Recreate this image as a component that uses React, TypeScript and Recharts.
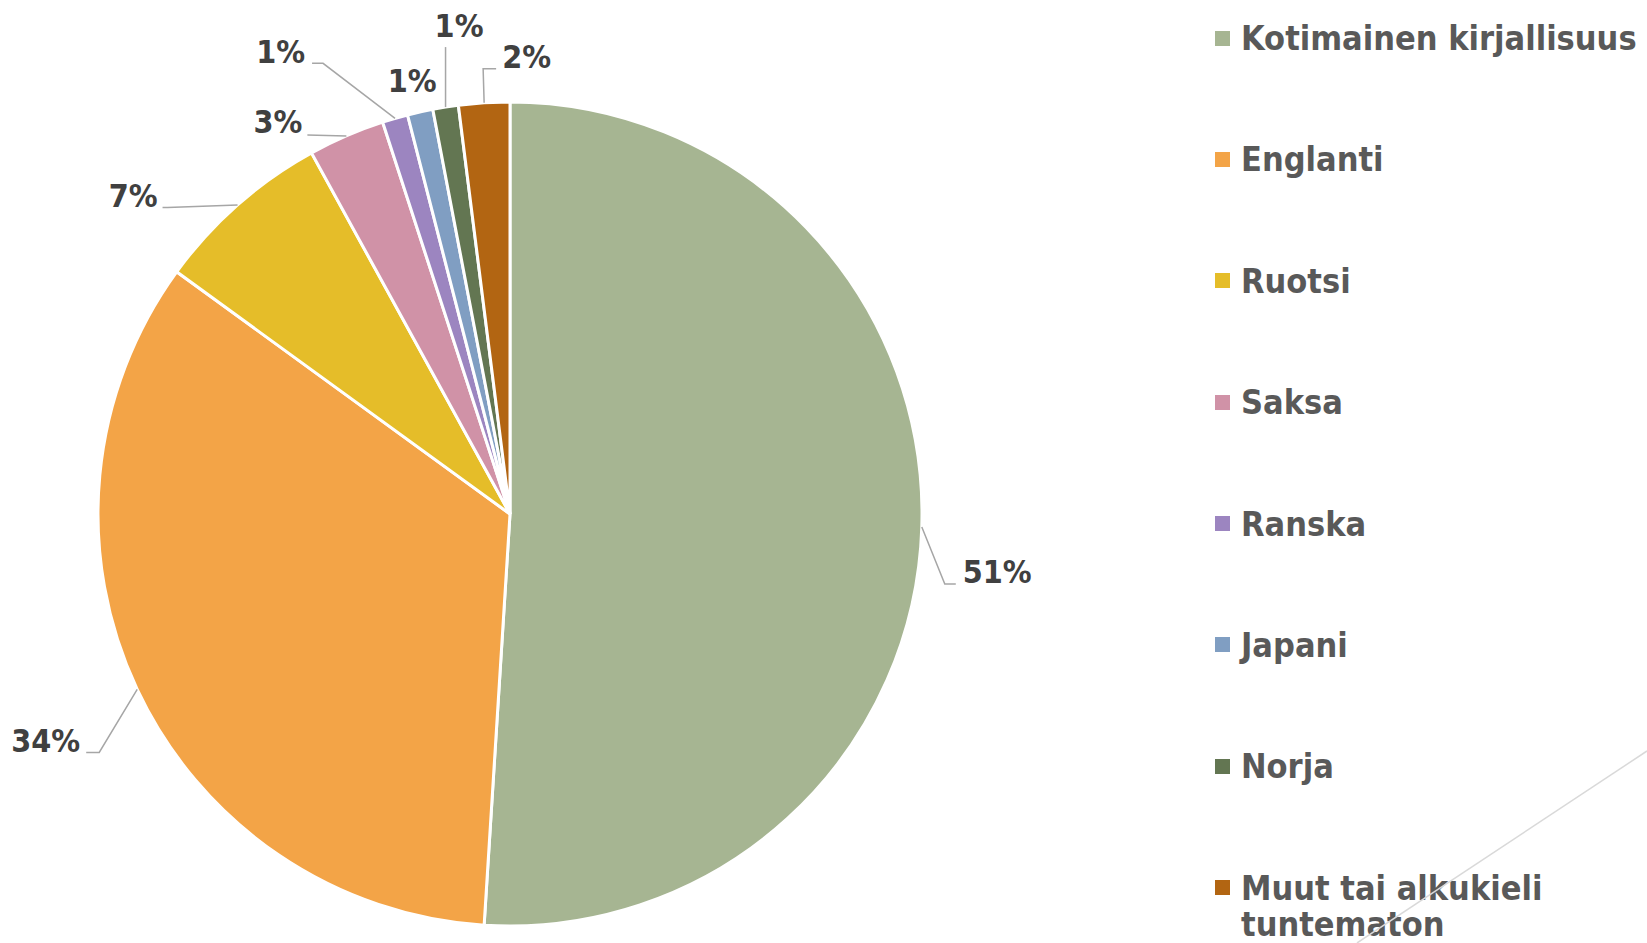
import React from 'react';
import { PieChart, Pie, Cell, Legend } from 'recharts';

const categories = [
  'Kotimainen kirjallisuus',
  'Englanti',
  'Ruotsi',
  'Saksa',
  'Ranska',
  'Japani',
  'Norja',
  'Muut tai alkukieli tuntematon'
];
const shares = [51, 34, 7, 3, 1, 1, 1, 2];
const colors = ['#A6B592', '#F3A447', '#E5BD29', '#D092A7', '#9C85C0', '#809EC2', '#637652', '#B26512'];

// where each data label sits relative to the slice's outer edge point (Excel-like leader lines)
const labelLayout = [
  { line: [[23, 57], [34, 57]], tx: 41, ty: 56, anchor: 'start' },
  { line: [[-38, 63], [-51, 63]], tx: -57, ty: 63, anchor: 'end' },
  { line: [[-70, 2.5], [-75, 2.5]], tx: -80, ty: 2, anchor: 'end' },
  { line: [[-39, -1]], tx: -44, ty: -3, anchor: 'end' },
  { line: [[-72, -55], [-83, -55]], tx: -90, ty: -55, anchor: 'end' },
  { line: [], tx: -8, ty: -20, anchor: 'middle' },
  { line: [[0, -60]], tx: 13.5, ty: -70, anchor: 'middle' },
  { line: [[-1, -34], [12, -34]], tx: 18, ty: -35, anchor: 'start' }
];

const FONT = '"DejaVu Sans Condensed", "DejaVu Sans", sans-serif';
const RADIAN = Math.PI / 180;

const data = categories.map((name, i) => ({ name, value: shares[i] }));

const renderLabel = (props: any) => {
  const { cx, cy, midAngle, outerRadius, index, value } = props;
  const ex = cx + outerRadius * Math.cos(-midAngle * RADIAN);
  const ey = cy + outerRadius * Math.sin(-midAngle * RADIAN);
  const lay = labelLayout[index];
  const pts = [[ex, ey], ...lay.line.map(([dx, dy]) => [ex + dx, ey + dy])];
  return (
    <g key={`lbl-${index}`}>
      {pts.length > 1 && (
        <polyline
          points={pts.map((p) => p.join(',')).join(' ')}
          fill="none"
          stroke="#A6A6A6"
          strokeWidth={1.5}
        />
      )}
      <text
        x={ex + lay.tx}
        y={ey + lay.ty}
        textAnchor={lay.anchor as any}
        fill="#404040"
        fontFamily={FONT}
        fontWeight="bold"
        fontSize={32}
      >
        {`${value}%`}
      </text>
    </g>
  );
};

const renderLegend = () => (
  <div style={{ fontFamily: FONT, fontWeight: 'bold', fontSize: 34, color: '#595959' }}>
    {categories.map((name, i) => (
      <div key={name} style={{ height: 121.4, display: 'flex', alignItems: 'flex-start' }}>
        <div
          style={{
            width: 15,
            height: 15,
            background: colors[i],
            marginTop: 10.5,
            marginRight: 11,
            flexShrink: 0
          }}
        />
        <div style={{ lineHeight: '36px', width: 406 }}>{name}</div>
      </div>
    ))}
  </div>
);

export default function App() {
  return (
    <div style={{ position: 'absolute', left: 0, top: 0, width: 1647, height: 943, background: '#fff' }}>
      <PieChart width={1647} height={943} margin={{ top: 0, right: 0, bottom: 0, left: 0 }}>
        <Pie
          data={data}
          dataKey="value"
          nameKey="name"
          cx={510}
          cy={514}
          outerRadius={412}
          startAngle={90}
          endAngle={-270}
          stroke="#FFFFFF"
          strokeWidth={3}
          label={renderLabel}
          labelLine={false}
          isAnimationActive={false}
        >
          {data.map((d, i) => (
            <Cell key={d.name} fill={colors[i]} />
          ))}
        </Pie>
        <Legend
          content={renderLegend}
          wrapperStyle={{ position: 'absolute', left: 1215, top: 20, width: 432 }}
        />
      </PieChart>
      <svg
        width={1647}
        height={943}
        style={{ position: 'absolute', left: 0, top: 0, pointerEvents: 'none' }}
      >
        <line x1={1647} y1={751} x2={1357} y2={943} stroke="#D9D9D9" strokeWidth={1.5} />
      </svg>
    </div>
  );
}
